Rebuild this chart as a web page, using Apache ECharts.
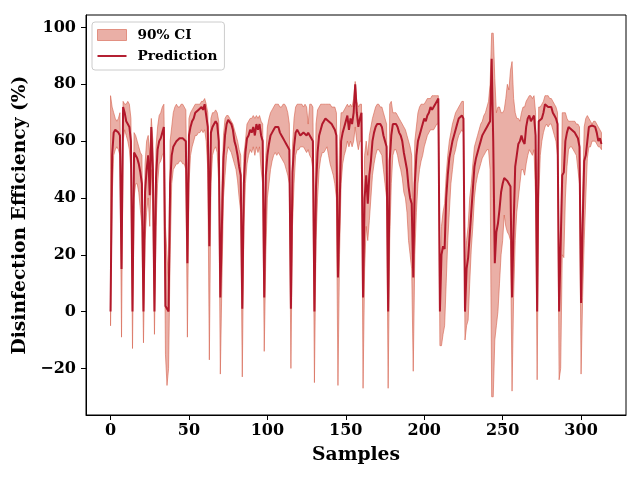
<!DOCTYPE html>
<html>
<head>
<meta charset="utf-8">
<script src="https://cdn.jsdelivr.net/npm/echarts@6/dist/echarts.min.js"></script>
<style>
  html, body { margin: 0; padding: 0; background: #fff; }
  #chart { width: 640px; height: 480px; }
</style>
</head>
<body>
<div id="chart"></div>
<script>
// predicted disinfection efficiency, one value per sample (0..313)
var prediction = [
  0, 55, 63, 64, 64, 63, 62, 15, 72, 70,
  67, 66, 65, 60, 0, 56, 56, 54, 52, 49,
  45, 0, 42, 50, 55, 41, 65, 50, 0, 47,
  57, 60, 61, 63, 65, 2, 1, 0, 45, 55,
  58, 59, 60, 60, 61, 61, 61, 61, 60, 17,
  62, 65, 67, 68, 70, 70, 71, 71, 72, 71,
  73, 69, 65, 23, 63, 65, 66, 67, 66, 60,
  5, 30, 54, 62, 66, 67.5, 67, 66, 64, 60,
  58, 55, 51, 48, 1, 45, 56, 61, 62, 64,
  63, 65, 62, 66, 64, 66, 62, 60, 5, 48,
  55, 59, 62, 63, 64, 65, 65, 65, 63, 62,
  61, 60, 59, 58, 57, 1, 49, 58, 63, 64,
  63, 62, 62, 63, 63, 62, 63, 62, 61, 60,
  0, 44, 56, 62, 64, 66, 67, 68, 68, 67,
  67, 66, 65, 64, 62, 12, 35, 60, 63, 65,
  67, 69, 64, 68, 66, 70, 80, 70, 65, 68,
  70, 5, 40, 48, 38, 48, 53, 60, 63, 65,
  66, 66, 66, 65, 62, 60, 58, 0, 53, 62,
  66, 66, 66, 65, 63, 62, 60, 56, 53, 50,
  44, 40, 38, 12, 45, 55, 60, 62, 64, 66,
  68, 67, 69, 70, 72, 71, 72, 73, 74, 75,
  0, 20, 23, 22, 40, 48, 54, 57, 60, 62,
  64, 66, 68, 68, 69, 68, 0, 15, 19, 27,
  35, 43, 51, 54, 56, 58, 60, 62, 63, 64,
  65, 66, 67, 89, 60, 17, 28, 31, 36, 42,
  45, 47, 47, 46, 45, 44, 5, 30, 51, 55,
  59, 60, 62, 60, 59, 65, 68, 69, 67, 67,
  69, 62, 0, 67, 67, 68, 70, 73, 73, 72,
  72, 72, 70, 69, 68, 66, 0, 0, 48, 49,
  60, 63, 65, 65, 64, 64, 63, 62, 61, 58,
  3, 30, 53, 55, 60, 65, 65, 65.5, 65, 65,
  63, 60, 61, 59
];

// lower bound of the 90% interval
var ciLower = [
  -5, 40, 55, 57, 58, 57, 55, -9, 60, 64,
  62, 60, 57, 50, -13, 40, 45, 45, 42, 36,
  30, -11, 25, 35, 40, 30, 50, 35, -8, 30,
  45, 52, 53, 55, 56, -15, -26, -20, 20, 45,
  50, 51, 52, 52, 53, 53, 52, 52, 50, -9,
  45, 55, 58, 60, 62, 62, 63, 63, 64, 63,
  64, 60, 50, -17, 45, 55, 57, 58, 56, 45,
  -22, 10, 40, 48, 55, 58, 57, 56, 54, 52,
  50, 46, 40, 35, -23, 30, 45, 52, 55, 57,
  56, 58, 55, 58, 56, 58, 50, 45, -14, 20,
  40, 45, 50, 53, 55, 56, 55, 56, 55, 54,
  53, 52, 50, 48, 45, -20, 30, 45, 55, 57,
  57, 58, 58, 58, 57, 56, 57, 55, 54, 50,
  -25, 25, 40, 50, 54, 56, 56, 57, 58, 55,
  52, 50, 48, 45, 40, -26, 20, 45, 52, 55,
  57, 60, 58, 60, 58, 60, 65, 60, 57, 60,
  60, -27, 15, 30, 25, 32, 40, 48, 52, 55,
  57, 57, 56, 55, 50, 45, 40, -27, 25, 45,
  55, 57, 57, 55, 52, 50, 47, 42, 40, 35,
  25, 20, 15, -21, 20, 35, 45, 50, 53, 55,
  58, 60, 62, 63, 64, 64, 64, 65, 66, 66,
  -12, -12, -8, -5, 10, 25, 35, 45, 50, 55,
  57, 60, 62, 63, 64, 63, -10, -5, -3, 10,
  22, 30, 40, 45, 48, 50, 52, 54, 55, 56,
  57, 57, 50, -30, -30, -10, -5, 0, 10, 20,
  25, 34, 30, 28, 27, 25, -28, 5, 25, 35,
  40, 45, 50, 50, 48, 52, 55, 57, 56, 55,
  57, 40, -24, 40, 55, 60, 63, 65, 66, 65,
  66, 66, 64, 62, 60, 55, -24, -20, 20, 19,
  40, 51, 57, 58, 58, 57, 56, 55, 50, 45,
  -22, 5, 25, 40, 54, 58, 58, 60, 60, 60,
  59, 58, 58, 57
];

// upper bound of the 90% interval
var ciUpper = [
  76, 72, 70, 68, 67, 68, 70, 30, 74, 73,
  73, 74, 73, 68, 15, 63, 62, 60, 58, 56,
  55, 10, 52, 60, 62, 55, 68, 60, 20, 58,
  65, 69, 70, 72, 73, 30, 20, 10, 60, 65,
  70, 72, 73, 72, 72, 73, 73, 72, 71, 30,
  68, 70, 71, 72, 73, 73, 73, 73, 74, 74,
  75, 73, 70, 40, 68, 70, 70, 71, 70, 67,
  20, 45, 62, 68, 69, 69, 68, 67, 66, 64,
  62, 60, 57, 55, 15, 55, 60, 66, 67, 68,
  68, 69, 68, 69, 68, 69, 67, 66, 15, 55,
  65, 68, 70, 71, 72, 73, 73, 73, 72, 72,
  73, 73, 72, 70, 66, 15, 58, 68, 72, 73,
  73, 73, 73, 72, 73, 72, 66, 73, 73, 72,
  20, 66, 71, 72, 73, 73, 73, 73, 73, 73,
  73, 72, 72, 72, 70, 30, 60, 70, 70, 71,
  72, 73, 72, 73, 72, 75, 81, 74, 72, 73,
  73, 20, 55, 60, 55, 62, 65, 68, 70, 72,
  73, 73, 72, 72, 70, 68, 66, 10, 73, 74,
  70, 70, 70, 69, 68, 67, 66, 65, 64, 62,
  60, 58, 55, 30, 60, 65, 70, 72, 73, 73,
  73, 74, 75, 75, 75, 76, 76, 76, 76, 76,
  10, 30, 35, 38, 48, 55, 60, 63, 66, 68,
  70, 71, 72, 73, 74, 74, 10, 25, 30, 40,
  45, 52, 58, 60, 62, 64, 66, 67, 69, 70,
  72, 74, 80, 98, 98, 82, 70, 72, 72, 70,
  70, 71, 75, 80, 78, 85, 88, 75, 70, 68,
  68, 67, 70, 72, 72, 74, 75, 76, 76, 75,
  76, 70, 10, 72, 72, 73, 74, 76, 76, 76,
  75, 75, 74, 73, 72, 70, 15, 20, 70, 70,
  70, 68, 67, 67, 67, 67, 67, 66, 66, 65,
  15, 40, 65, 68, 69, 68, 67, 66, 67, 67,
  66, 65, 64, 63
];

var xTicks = [0, 50, 100, 150, 200, 250, 300];
var yTicks = [-20, 0, 20, 40, 60, 80, 100];

var font = 'DejaVu Serif';
var lineColor = '#b2182b';
var bandFill = 'rgba(214, 96, 77, 0.5)';
var bandEdge = 'rgba(214, 96, 77, 0.6)';

var bandRows = ciLower.map(function (v, k) { return [k, v, ciUpper[k]]; });
var predPts = prediction.map(function (v, k) { return [k, v]; });

// the whole interval is drawn as one polygon, through the grid's coordinate system
function renderBand(params, api) {
  if (params.dataIndex !== 0) return;
  var pts = [];
  for (var k = 0; k < ciUpper.length; k++) pts.push(api.coord([k, ciUpper[k]]));
  for (var j = ciLower.length - 1; j >= 0; j--) pts.push(api.coord([j, ciLower[j]]));
  return {
    type: 'polygon',
    shape: { points: pts },
    style: { fill: bandFill, stroke: bandEdge, lineWidth: 1 }
  };
}

var chart = echarts.init(document.getElementById('chart'));
chart.setOption({
  animation: false,
  backgroundColor: '#fff',
  grid: {
    left: 86, right: 14, top: 15, bottom: 65,
    show: true, borderColor: '#000', borderWidth: 1
  },
  legend: {
    orient: 'vertical',
    left: 92, top: 22,
    padding: [6, 7, 7, 5],
    itemGap: 7,
    itemWidth: 29, itemHeight: 11,
    backgroundColor: 'rgba(255,255,255,0.8)',
    borderColor: '#cccccc', borderWidth: 1, borderRadius: 3,
    textStyle: { fontFamily: font, fontWeight: 'bold', fontSize: 13.7, color: '#000', padding: [0, 0, 0, 6] },
    data: [
      { name: '90% CI', icon: 'rect', itemStyle: { color: bandFill, borderColor: bandEdge, borderWidth: 1 } },
      { name: 'Prediction', icon: 'path://M0,0H30V2H0Z', itemStyle: { color: lineColor } }
    ]
  },
  xAxis: {
    type: 'value',
    min: -15.65, max: 328.65,
    name: 'Samples',
    nameLocation: 'middle',
    nameGap: 31,
    nameTextStyle: { fontFamily: font, fontWeight: 'bold', fontSize: 18.7, color: '#000' },
    splitLine: { show: false },
    axisLine: { show: true, onZero: false, lineStyle: { color: '#000', width: 1 } },
    axisTick: { show: true, inside: false, length: 5, customValues: xTicks, lineStyle: { color: '#000' } },
    axisLabel: { customValues: xTicks, margin: 8, fontFamily: font, fontWeight: 'bold', fontSize: 16, color: '#000' }
  },
  yAxis: {
    type: 'value',
    min: -36.4, max: 104.4,
    name: 'Disinfection Efficiency (%)',
    nameLocation: 'middle',
    nameGap: 48,
    nameTextStyle: { fontFamily: font, fontWeight: 'bold', fontSize: 18.7, color: '#000' },
    splitLine: { show: false },
    axisLine: { show: true, onZero: false, lineStyle: { color: '#000', width: 1 } },
    axisTick: { show: true, inside: false, length: 5, customValues: yTicks, lineStyle: { color: '#000' } },
    axisLabel: {
      customValues: yTicks, margin: 10, fontFamily: font, fontWeight: 'bold', fontSize: 16, color: '#000',
      formatter: function (v) { return v < 0 ? '\u2212' + Math.abs(v) : String(v); }
    }
  },
  series: [
    {
      name: '90% CI',
      type: 'custom',
      data: bandRows,
      encode: { x: 0, y: [1, 2] },
      renderItem: renderBand,
      itemStyle: { color: bandFill },
      silent: true,
      z: 1
    },
    {
      name: 'Prediction',
      type: 'line',
      data: predPts,
      symbol: 'none',
      lineStyle: { width: 2, color: lineColor },
      itemStyle: { color: lineColor },
      z: 3
    }
  ]
});
</script>
</body>
</html>
